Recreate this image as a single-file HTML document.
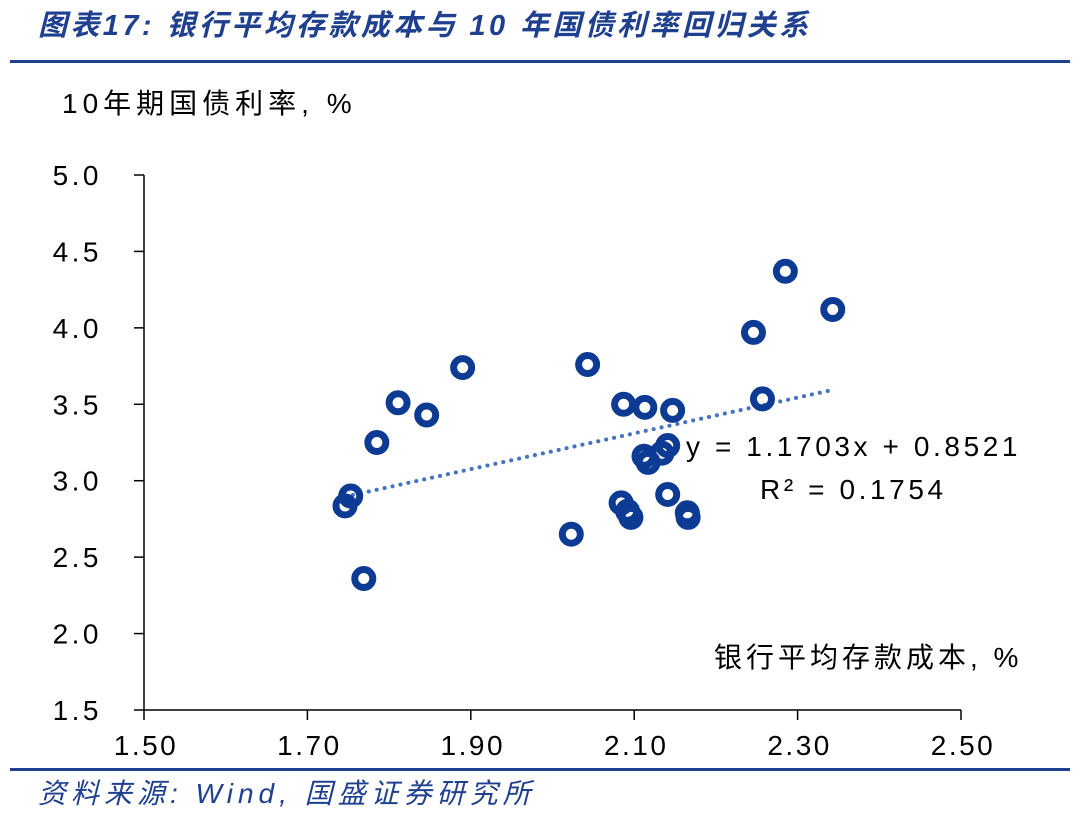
<!DOCTYPE html>
<html><head><meta charset="utf-8">
<style>
body{margin:0;background:#fff;width:1080px;height:818px;overflow:hidden;font-family:"Liberation Sans","Noto Sans CJK SC",sans-serif;}
</style></head>
<body>
<svg id="chart" width="1080" height="818" xmlns="http://www.w3.org/2000/svg" style="position:absolute;left:0;top:0">
<text x="38" y="35" font-size="29" font-weight="bold" font-style="italic" letter-spacing="3.4" fill="#1f3f8f" font-family="Liberation Sans,Noto Sans CJK SC,sans-serif">图表17: 银行平均存款成本与 10 年国债利率回归关系</text>
<rect x="10" y="60" width="1060" height="3" fill="#1f3f8f"/>
<text x="62" y="113" font-size="28" letter-spacing="5" fill="#000">10年期国债利率, %</text>
<text x="714" y="667" font-size="28" letter-spacing="4" fill="#000">银行平均存款成本, %</text>
<g id="axes"></g>
<g id="marks"></g>
<text x="686" y="456" font-size="28" letter-spacing="3.6" fill="#000">y = 1.1703x + 0.8521</text>
<text x="760" y="499" font-size="28" letter-spacing="3.6" fill="#000">R² = 0.1754</text>
<rect x="10" y="768" width="1060" height="3" fill="#1f3f8f"/>
<text x="38" y="803" font-size="28" font-style="italic" letter-spacing="5" fill="#1f3f8f">资料来源: Wind, 国盛证券研究所</text>
</svg>
<script>
const xs=[1.746,1.753,1.769,1.785,1.811,1.846,1.890,2.023,2.043,2.084,2.087,2.092,2.096,2.113,2.112,2.117,2.134,2.141,2.141,2.147,2.165,2.166,2.246,2.257,2.285,2.343];
const ys=[2.835,2.90,2.36,3.25,3.51,3.43,3.74,2.65,3.76,2.855,3.50,2.80,2.76,3.48,3.16,3.12,3.18,3.23,2.91,3.46,2.79,2.76,3.97,3.535,4.37,4.12];
const xTicks=[1.5,1.7,1.9,2.1,2.3,2.5];
const yTicks=[1.5,2.0,2.5,3.0,3.5,4.0,4.5,5.0];
const slope=1.1703, intercept=0.8521;
const NS='http://www.w3.org/2000/svg';
const X=v=>144+(v-1.5)*817;
const Y=v=>710-(v-1.5)*152.86;
function mk(t,a,p){const e=document.createElementNS(NS,t);for(const k in a)e.setAttribute(k,a[k]);p.appendChild(e);return e;}
const ax=document.getElementById('axes'), mg=document.getElementById('marks');
let l=mk('line',{x1:144,y1:175,x2:144,y2:710,stroke:'#000','stroke-width':1.5},ax);


l=mk('line',{x1:144,y1:710,x2:961,y2:710,stroke:'#000','stroke-width':1.5},ax);


yTicks.forEach(v=>{mk('line',{x1:134,y1:Y(v),x2:144,y2:Y(v),stroke:'#000','stroke-width':1.5},ax);
 const t=mk('text',{x:102,y:Y(v)+10,'font-size':28,'text-anchor':'end','letter-spacing':3.5,fill:'#000'},ax);t.textContent=v.toFixed(1);
 
 });
xTicks.forEach(v=>{mk('line',{x1:X(v),y1:710,x2:X(v),y2:720,stroke:'#000','stroke-width':1.5},ax);
 const t=mk('text',{x:X(v)+2,y:755,'font-size':28,'text-anchor':'middle','letter-spacing':2.5,fill:'#000'},ax);t.textContent=v.toFixed(2);
 
 });
const x0=Math.min(...xs), x1=Math.max(...xs);
const tl=mk('line',{x1:X(x0),y1:Y(slope*x0+intercept),x2:X(x1),y2:Y(slope*x1+intercept),stroke:'#4472c4','stroke-width':4,'stroke-dasharray':'0.1 8','stroke-linecap':'round'},mg);


xs.forEach((v,i)=>{const c=mk('circle',{cx:X(v),cy:Y(ys[i]),r:9,fill:'none',stroke:'#0d3b94','stroke-width':7},mg);
 
 });
</script>
</body></html>
